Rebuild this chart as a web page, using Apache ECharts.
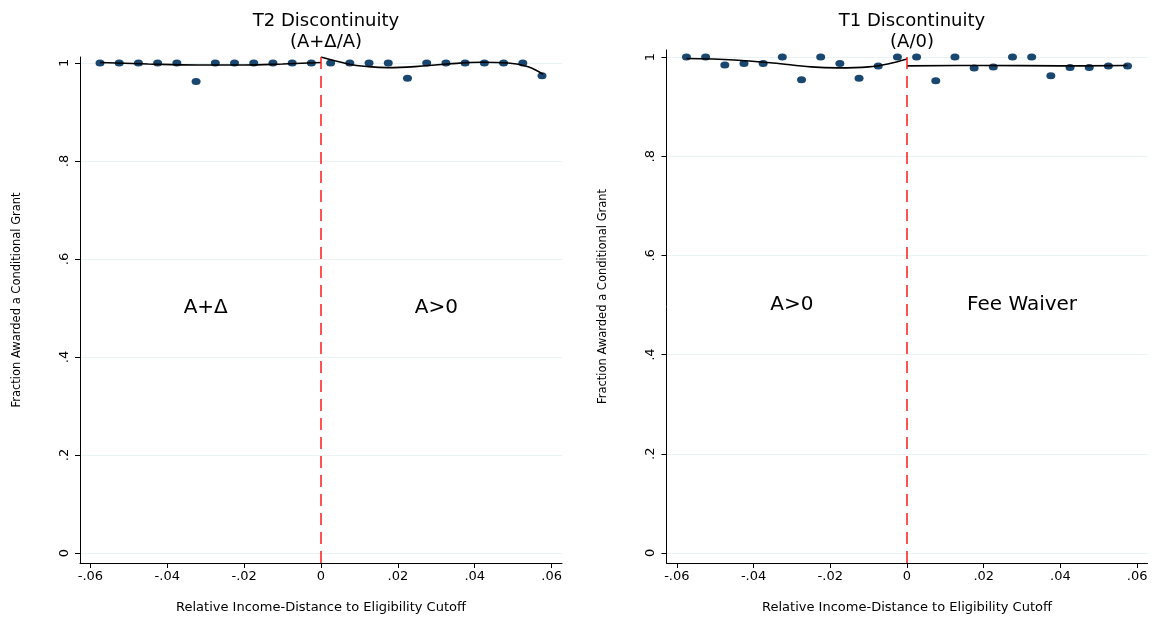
<!DOCTYPE html>
<html>
<head>
<meta charset="utf-8">
<script src="https://cdn.jsdelivr.net/npm/echarts@6/dist/echarts.min.js"></script>
<style>
html,body{margin:0;padding:0;background:#fff;}
#chart{width:1153px;height:619px;}
</style>
</head>
<body>
<div id="chart"></div>
<script>
// ---- data ----
const binCenters = [-0.0575,-0.0525,-0.0475,-0.0425,-0.0375,-0.0325,-0.0275,-0.0225,-0.0175,-0.0125,-0.0075,-0.0025,
                     0.0025, 0.0075, 0.0125, 0.0175, 0.0225, 0.0275, 0.0325, 0.0375, 0.0425, 0.0475, 0.0525, 0.0575];
const t2Share = [1.0,1.0,1.0,1.0,1.0,0.962,1.0,1.0,1.0,1.0,1.0,1.0,
                 1.0,1.0,1.0,1.0,0.969,1.0,1.0,1.0,1.0,1.0,1.0,0.974];
const t1Share = [1.0,1.0,0.984,0.987,0.987,1.0,0.954,1.0,0.987,0.957,0.982,1.0,
                 1.0,0.952,1.0,0.978,0.980,1.0,1.0,0.962,0.979,0.979,0.982,0.982];

const t2FitLeftX  = [-0.0575,-0.045,-0.032,-0.02,-0.01,0];
const t2FitLeftY  = [1.001,0.998,0.996,0.996,0.998,1.001];
const t2FitRightX = [0,0.007,0.0123,0.0175,0.0244,0.0331,0.0418,0.0487,0.0539,0.0578];
const t2FitRightY = [1.012,0.998,0.9925,0.9905,0.9925,0.998,1.0014,1.0,0.9925,0.977];

const t1FitLeftX  = [-0.0575,-0.045,-0.035,-0.025,-0.018,-0.01,-0.005,0];
const t1FitLeftY  = [0.997,0.994,0.988,0.980,0.978,0.980,0.986,0.996];
const t1FitRightX = [0,0.02,0.04,0.0575];
const t1FitRightY = [0.982,0.983,0.982,0.983];

const xTicks = [-0.06,-0.04,-0.02,0,0.02,0.04,0.06];
const yTicks = [0,0.2,0.4,0.6,0.8,1];

const panelTitles = ['T2 Discontinuity\n(A+Δ/A)','T1 Discontinuity\n(A/0)'];
const leftRegionLabels = ['A+Δ','A>0'];
const rightRegionLabels = ['A>0','Fee Waiver'];
const xName = 'Relative Income-Distance to Eligibility Cutoff';
const yName = 'Fraction Awarded a Conditional Grant';

// ---- helpers ----
const FONT = 'DejaVu Sans';
function fmt(v){
  if (Math.abs(v) < 1e-9) return '0';
  const s = Math.abs(v).toFixed(2).replace(/^0/,'').replace(/0+$/,'').replace(/\.$/,'');
  return (v<0?'-':'') + s;
}
function fmtY(v){
  if (Math.abs(v) < 1e-9) return '0';
  if (Math.abs(v-1) < 1e-9) return '1';
  return v.toFixed(1).replace(/^0/,'');
}
function zip(xs, ys){ return xs.map((x,i)=>[x,ys[i]]); }

function xAxisCfg(gridIndex){
  return {
    type:'value', gridIndex, min:-0.0627, max:0.0627,
    name:xName, nameLocation:'middle', nameGap:38,
    nameTextStyle:{fontFamily:FONT,fontSize:13,color:'#000'},
    axisLine:{show:true,onZero:false,lineStyle:{color:'#000',width:1}},
    axisTick:{show:true,length:5,customValues:xTicks,lineStyle:{color:'#000'}},
    axisLabel:{customValues:xTicks,formatter:fmt,fontFamily:FONT,fontSize:13,color:'#000',margin:7},
    splitLine:{show:false}
  };
}
function yAxisCfg(gridIndex,min,max){
  return {
    type:'value', gridIndex, min, max,
    name:yName, nameLocation:'middle', nameGap:57, nameRotate:90,
    nameTextStyle:{fontFamily:FONT,fontSize:11.5,color:'#000',padding:[0,0,0,20]},
    axisLine:{show:true,onZero:false,lineStyle:{color:'#000',width:1}},
    axisTick:{show:true,length:5,customValues:yTicks,lineStyle:{color:'#000'}},
    axisLabel:{customValues:yTicks,formatter:fmtY,rotate:90,fontFamily:FONT,fontSize:13,color:'#000',margin:9},
    splitLine:{show:true,lineStyle:{color:'#eaf2f3',width:1}}
  };
}
function regionMarks(labels){
  return {
    symbol:'circle', symbolSize:1, silent:true,
    itemStyle:{color:'rgba(0,0,0,0)'},
    label:{show:true,position:'inside',fontFamily:FONT,fontSize:20,color:'#000',formatter:p=>p.name},
    data:[{name:labels[0],coord:[-0.03,0.5]},{name:labels[1],coord:[0.03,0.5]}]
  };
}
function cutoffLine(){
  return {
    silent:true, symbol:['none','none'], label:{show:false},
    lineStyle:{color:'#ff1a1a',type:[12,7],width:1.5,opacity:1},
    emphasis:{disabled:true},
    data:[{xAxis:0}]
  };
}
function scatterSeries(idx, ys, labels){
  return {
    type:'scatter', xAxisIndex:idx, yAxisIndex:idx,
    data:zip(binCenters, ys), symbol:'circle', symbolSize:[9,7],
    itemStyle:{color:'#1a476f',opacity:1}, z:3,
    markLine:cutoffLine(), markPoint:regionMarks(labels)
  };
}
function fitSeries(idx, xs, ys){
  return {
    type:'line', xAxisIndex:idx, yAxisIndex:idx, data:zip(xs,ys),
    smooth:0.4, showSymbol:false, symbol:'none',
    lineStyle:{color:'#000',width:1.6}, z:4
  };
}

const chart = echarts.init(document.getElementById('chart'),null,{renderer:'canvas'});
chart.setOption({
  backgroundColor:'#fff',
  animation:false,
  title:[
    {text:panelTitles[0],left:321,top:6,textAlign:'center',
     textStyle:{fontFamily:FONT,fontSize:18,fontWeight:'normal',color:'#000',lineHeight:21}},
    {text:panelTitles[1],left:907,top:6,textAlign:'center',
     textStyle:{fontFamily:FONT,fontSize:18,fontWeight:'normal',color:'#000',lineHeight:21}}
  ],
  grid:[
    {left:80,width:482,top:57,height:506,containLabel:false,outerBoundsMode:'none'},
    {left:666.5,width:481,top:50,height:513,containLabel:false,outerBoundsMode:'none'}
  ],
  xAxis:[xAxisCfg(0),xAxisCfg(1)],
  yAxis:[yAxisCfg(0,-0.0204,1.0122),yAxisCfg(1,-0.0202,1.0141)],
  series:[
    scatterSeries(0,t2Share,leftRegionLabels),
    fitSeries(0,t2FitLeftX,t2FitLeftY),
    fitSeries(0,t2FitRightX,t2FitRightY),
    scatterSeries(1,t1Share,rightRegionLabels),
    fitSeries(1,t1FitLeftX,t1FitLeftY),
    fitSeries(1,t1FitRightX,t1FitRightY)
  ]
});
</script>
</body>
</html>
